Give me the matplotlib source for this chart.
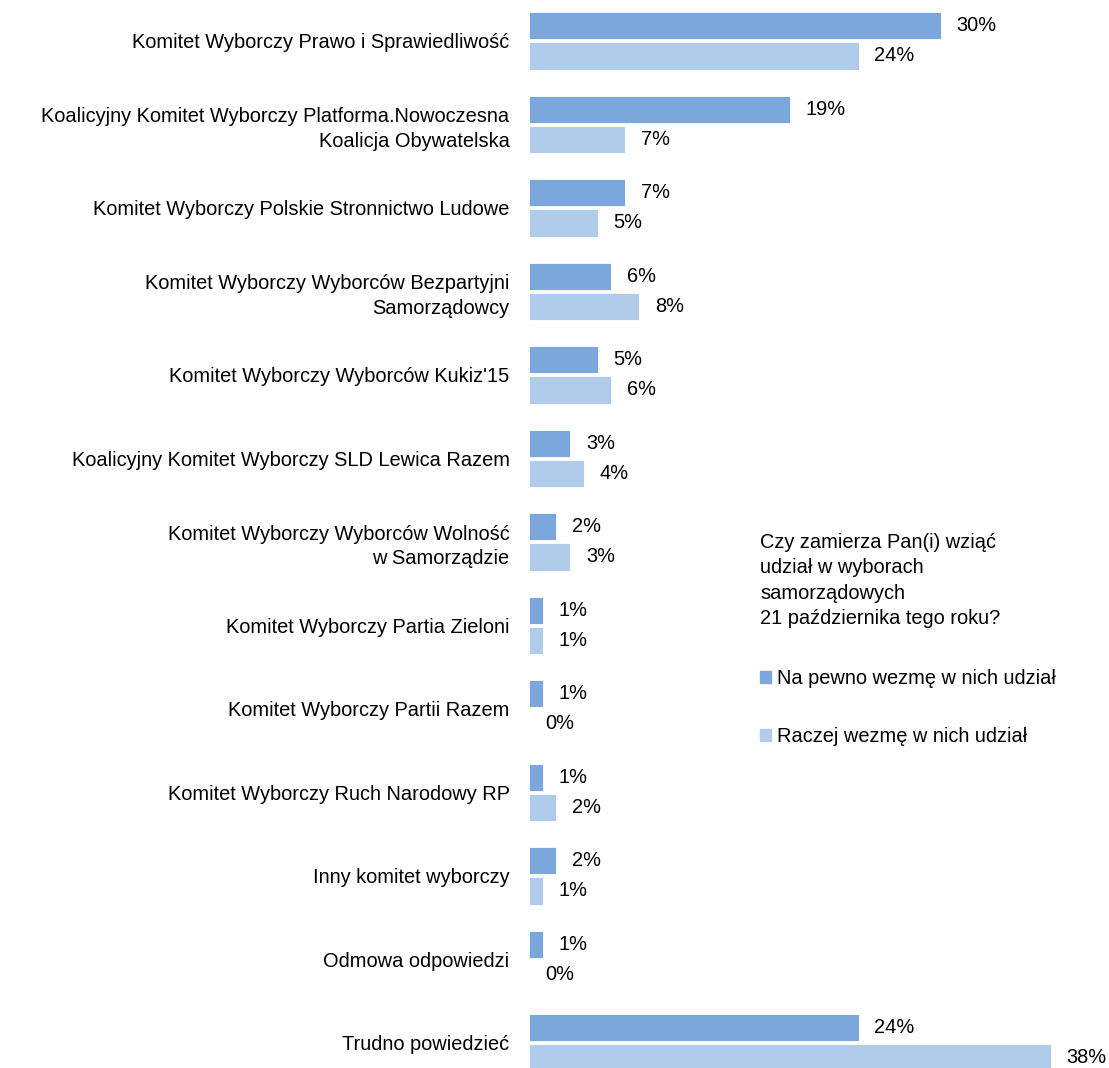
import numpy as np
import matplotlib.pyplot as plt
from matplotlib.patches import Patch

plt.rcParams['font.family'] = ['Liberation Sans', 'DejaVu Sans']

categories = [
    "Komitet Wyborczy Prawo i Sprawiedliwość",
    "Koalicyjny Komitet Wyborczy Platforma.Nowoczesna\nKoalicja Obywatelska",
    "Komitet Wyborczy Polskie Stronnictwo Ludowe",
    "Komitet Wyborczy Wyborców Bezpartyjni\nSamorządowcy",
    "Komitet Wyborczy Wyborców Kukiz'15",
    "Koalicyjny Komitet Wyborczy SLD Lewica Razem",
    "Komitet Wyborczy Wyborców Wolność\nw Samorządzie",
    "Komitet Wyborczy Partia Zieloni",
    "Komitet Wyborczy Partii Razem",
    "Komitet Wyborczy Ruch Narodowy RP",
    "Inny komitet wyborczy",
    "Odmowa odpowiedzi",
    "Trudno powiedzieć",
]
na_pewno = [30, 19, 7, 6, 5, 3, 2, 1, 1, 1, 2, 1, 24]
raczej = [24, 7, 5, 8, 6, 4, 3, 1, 0, 2, 1, 0, 38]
series_names = ["Na pewno wezmę w nich udział", "Raczej wezmę w nich udział"]
legend_title = "Czy zamierza Pan(i) wziąć\nudział w wyborach\nsamorządowych\n21 października tego roku?"

c_dark = "#7BA7DD"
c_light = "#B1CBEA"
fs = 14.4

fig = plt.figure(figsize=(11.09, 10.68), dpi=100)
ax = fig.add_axes([529 / 1109, 0, 1 - 529 / 1109, 1])

y = np.arange(len(categories))
h = 0.325
off = 0.18
ax.barh(y - off, na_pewno, height=h, color=c_dark, edgecolor="white", linewidth=0.6)
ax.barh(y + off, raczej, height=h, color=c_light, edgecolor="white", linewidth=0.6)

for i in range(len(categories)):
    ax.text(na_pewno[i] + 1.15, y[i] - off, f"{na_pewno[i]}%", va="center", ha="left", fontsize=fs)
    ax.text(raczej[i] + 1.15, y[i] + off, f"{raczej[i]}%", va="center", ha="left", fontsize=fs)

ax.set_yticks(y)
ax.set_yticklabels(categories, fontsize=fs, ha="right", linespacing=1.35)
ax.tick_params(axis="y", length=0, pad=14)
ax.set_xticks([])
ax.set_xlim(0, 42.24)
ax.set_ylim(12.3, -0.49)
for s in ax.spines.values():
    s.set_visible(False)

fig.text(760 / 1109, 1 - 533 / 1068, legend_title, fontsize=fs, va="top", ha="left", linespacing=1.42)

handles = [Patch(color=c_dark), Patch(color=c_light)]
fig.legend(handles, series_names, loc="upper left", bbox_to_anchor=(752 / 1109, 1 - 661 / 1068),
           frameon=False, fontsize=fs, handlelength=0.55, handleheight=0.55, handletextpad=0.3,
           labelspacing=1.95, borderaxespad=0)

fig.savefig("out.png", dpi=100)
